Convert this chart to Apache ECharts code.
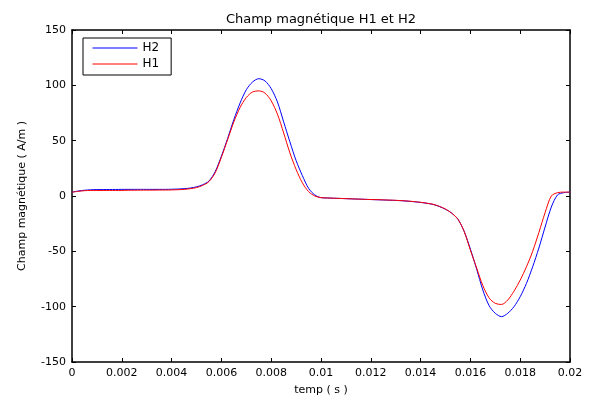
<!DOCTYPE html>
<html lang="fr">

<head>
    <meta charset="UTF-8">
    <title>Champ magnétique H1 et H2</title>
    <script src="https://cdn.jsdelivr.net/npm/echarts@6/dist/echarts.min.js"></script>
    <style>
        body { margin: 0; background: #fff; }
    </style>
</head>

<body>
    <div id="main" style="width: 592px;height:401px;"></div>
    <script type="text/javascript">
        // temps (s)
        var temps = [
            0, 0.00025, 0.0005, 0.00075, 0.001, 0.00125, 0.0015, 0.00175, 0.002, 0.00225,
            0.0025, 0.00275, 0.003, 0.00325, 0.0035, 0.00375, 0.004, 0.00425, 0.0045, 0.00475,
            0.005, 0.00525, 0.0055, 0.00575, 0.006, 0.00625, 0.0065, 0.00675, 0.007, 0.00725,
            0.0075, 0.00775, 0.008, 0.00825, 0.0085, 0.00875, 0.009, 0.00925, 0.0095, 0.00975,
            0.01, 0.01025, 0.0105, 0.01075, 0.011, 0.01125, 0.0115, 0.01175, 0.012, 0.01225,
            0.0125, 0.01275, 0.013, 0.01325, 0.0135, 0.01375, 0.014, 0.01425, 0.0145, 0.01475,
            0.015, 0.01525, 0.0155, 0.01575, 0.016, 0.01625, 0.0165, 0.01675, 0.017, 0.01725,
            0.0175, 0.01775, 0.018, 0.01825, 0.0185, 0.01875, 0.019, 0.01925, 0.0195, 0.01975,
            0.02
        ]
        var h2 = [
            3.5, 4.5, 5.2, 5.6, 5.8, 5.8, 5.9, 5.9, 6, 6,
            6, 6, 6, 6, 6, 6, 6.1, 6.3, 6.6, 7.2,
            8.3, 10.2, 13.5, 22, 36, 52, 69, 84, 96, 103,
            106, 104, 97, 85, 67, 49, 32, 18.5, 7, 1,
            -1.5, -1.8, -2, -2.2, -2.4, -2.6, -2.8, -3, -3.2, -3.4,
            -3.6, -3.8, -4, -4.3, -4.7, -5.2, -5.8, -6.6, -7.6, -9.5,
            -12, -15.5, -21, -32, -48, -66, -85, -99, -106, -109,
            -106, -100, -91, -79, -64, -47, -28, -10, 1, 3,
            3.5
        ]
        var h1 = [
            3.5, 4.2, 4.8, 5, 5, 5, 5, 5, 5, 5.2,
            5.2, 5.3, 5.3, 5.3, 5.4, 5.4, 5.5, 5.7, 6, 6.6,
            7.6, 9.6, 13, 21, 35, 51, 67, 80, 89, 94,
            95, 93, 86, 74, 57, 39, 24, 12, 4, 0,
            -1.5, -1.8, -2, -2.2, -2.4, -2.6, -2.8, -3, -3.2, -3.3,
            -3.5, -3.7, -3.9, -4.2, -4.6, -5.1, -5.7, -6.5, -7.5, -9.3,
            -11.8, -15.5, -21, -32, -49, -65, -81, -92, -97, -98,
            -94, -86, -76, -64, -50, -33, -15, 0, 3, 3.5,
            3.5
        ]

        var police = 'DejaVu Sans'

        function paires(ys) {
            return temps.map(function (t, i) { return [t, ys[i]] })
        }

        var myChart = echarts.init(document.getElementById('main'));

        var axeX = {
            type: 'value',
            min: 0,
            max: 0.02,
            interval: 0.002,
            axisLine: { show: true, onZero: false, lineStyle: { color: '#000', width: 1.5 } },
            axisTick: { inside: true, length: 4, lineStyle: { color: '#000' } },
            splitLine: { show: false }
        }
        var axeY = {
            type: 'value',
            min: -150,
            max: 150,
            interval: 50,
            axisLine: { show: true, onZero: false, lineStyle: { color: '#000', width: 1.5 } },
            axisTick: { inside: true, length: 4, lineStyle: { color: '#000' } },
            splitLine: { show: false }
        }

        var option = {
            animation: false,
            backgroundColor: '#fff',
            title: {
                text: 'Champ magnétique H1 et H2',
                left: 316,
                textAlign: 'center',
                top: 8,
                textStyle: { fontFamily: police, fontSize: 13, fontWeight: 'normal', color: '#000' }
            },
            legend: {
                data: ['H2', 'H1'],
                orient: 'vertical',
                left: 83,
                top: 38,
                itemWidth: 45,
                itemHeight: 14,
                itemGap: 4,
                padding: [4, 12, 5, 9],
                borderColor: '#000',
                borderWidth: 1,
                backgroundColor: '#fff',
                itemStyle: { opacity: 0 },
                lineStyle: { width: 1 },
                textStyle: { fontFamily: police, fontSize: 12, color: '#000' }
            },
            grid: { left: 72, right: 22, top: 30, bottom: 37, containLabel: false },
            xAxis: [
                Object.assign({}, axeX, {
                    position: 'bottom',
                    name: 'temp ( s )',
                    nameLocation: 'middle',
                    nameGap: 23,
                    nameTextStyle: { fontFamily: police, fontSize: 11, color: '#000' },
                    axisLabel: {
                        margin: 6,
                        fontFamily: police, fontSize: 11, color: '#000',
                        formatter: function (v) { return String(+v.toFixed(3)) }
                    }
                }),
                Object.assign({}, axeX, { position: 'top', axisLabel: { show: false } })
            ],
            yAxis: [
                Object.assign({}, axeY, {
                    position: 'left',
                    name: 'Champ magnétique ( A/m )',
                    nameLocation: 'middle',
                    nameRotate: 90,
                    nameGap: 44,
                    nameTextStyle: { fontFamily: police, fontSize: 11, color: '#000' },
                    axisLabel: { margin: 6, fontFamily: police, fontSize: 11, color: '#000' }
                }),
                Object.assign({}, axeY, { position: 'right', axisLabel: { show: false } })
            ],
            series: [
                {
                    name: 'H2',
                    type: 'line',
                    symbol: 'none',
                    smooth: 0.3,
                    lineStyle: { color: '#0000ff', width: 1 },
                    itemStyle: { color: '#0000ff' },
                    data: paires(h2)
                },
                {
                    name: 'H1',
                    type: 'line',
                    symbol: 'none',
                    smooth: 0.3,
                    lineStyle: { color: '#ff0000', width: 1 },
                    itemStyle: { color: '#ff0000' },
                    data: paires(h1)
                }
            ]
        };

        myChart.setOption(option);
    </script>
</body>

</html>
